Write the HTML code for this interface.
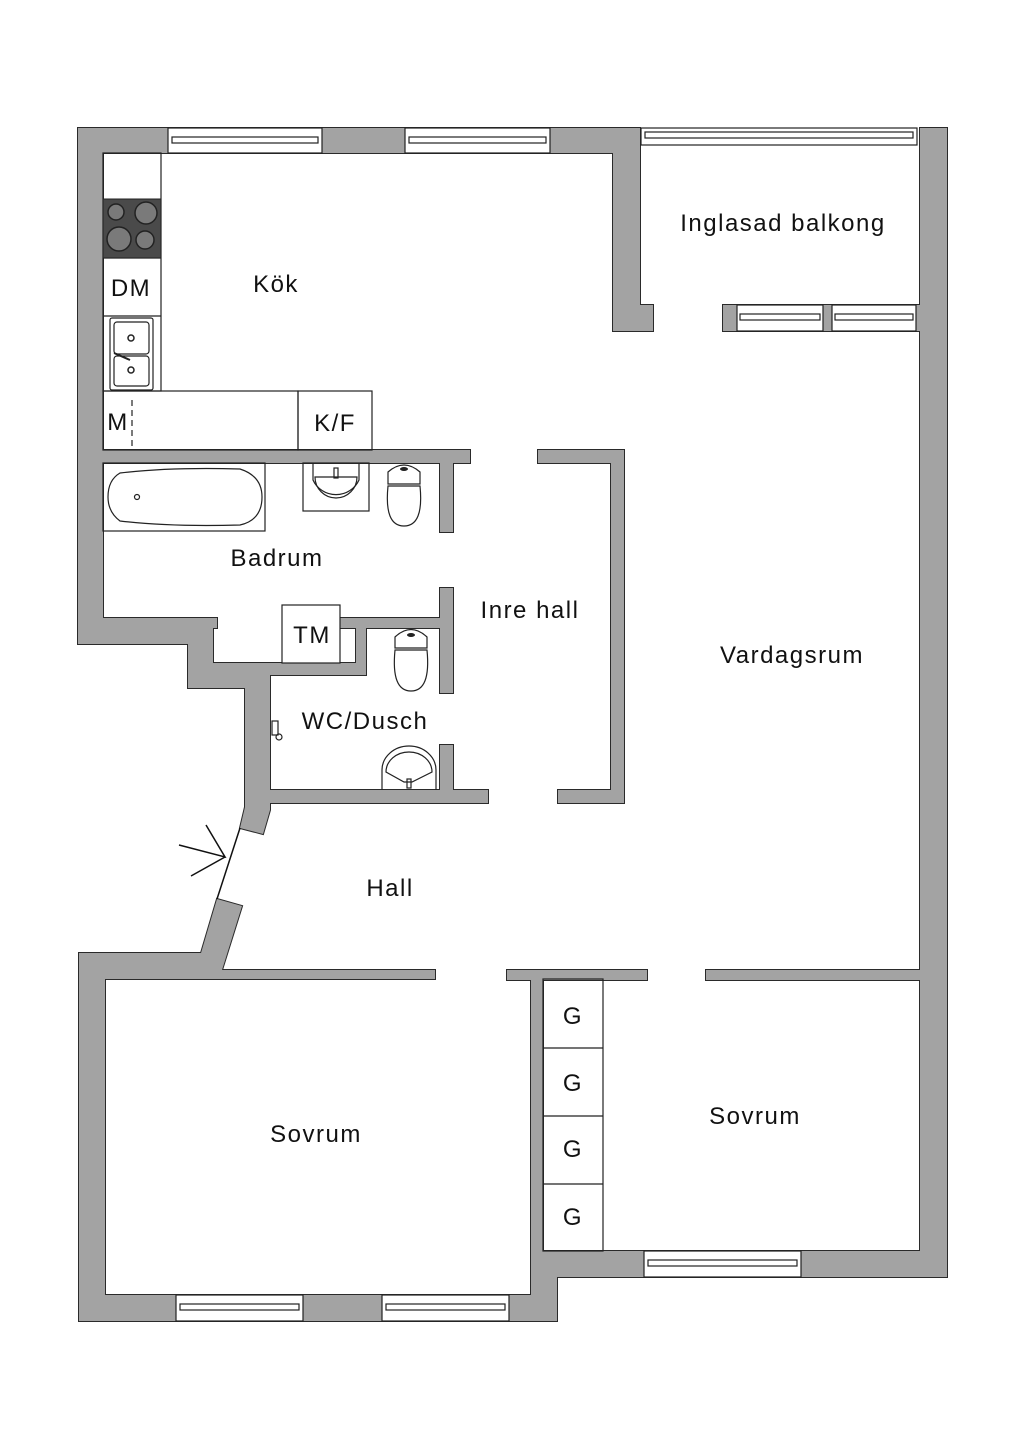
<!DOCTYPE html>
<html><head><meta charset="utf-8"><style>
html,body{margin:0;padding:0;background:#fff;}
svg{display:block;}
text{font-family:"Liberation Sans",sans-serif;fill:#111;}
</style></head><body>
<svg width="1024" height="1448" viewBox="0 0 1024 1448" xmlns="http://www.w3.org/2000/svg">
<defs>
<g id="walls">
<rect x="78" y="128" width="562" height="25"/>
<rect x="613" y="128" width="27" height="203"/>
<rect x="613" y="305" width="40" height="26"/>
<rect x="920" y="128" width="27" height="1149"/>
<rect x="723" y="305" width="197" height="26"/>
<rect x="78" y="128" width="25" height="516"/>
<polygon points="78,618 217,618 217,628 213,628 213,663 356,663 356,628 340,628 340,618 440,618 440,588 453,588 453,693 440,693 440,628 366,628 366,675 270,675 270,790 440,790 440,745 453,745 453,790 488,790 488,803 270,803 270,810 263,834 240,828 245,807 245,688 188,688 188,644 78,644"/>
<rect x="103" y="450" width="367" height="13"/>
<rect x="440" y="450" width="13" height="82"/>
<polygon points="538,450 624,450 624,803 558,803 558,790 611,790 611,463 538,463"/>
<polygon points="79,953 201,953 217,899 242,906 222,970 435,970 435,979 105,979 105,1321 79,1321"/>
<rect x="79" y="1295" width="478" height="26"/>
<rect x="531" y="979" width="12" height="316"/>
<rect x="531" y="1251" width="26" height="70"/>
<rect x="531" y="1251" width="416" height="26"/>
<rect x="507" y="970" width="140" height="10"/>
<rect x="706" y="970" width="216" height="10"/>
</g>
</defs>
<use href="#walls" fill="#a3a3a3" stroke="#2a2a2a" stroke-width="2"/>
<use href="#walls" fill="#a3a3a3" stroke="none"/>

<g fill="#fff" stroke="#222" stroke-width="1.2">
<rect x="168" y="128" width="154" height="25"/><rect x="172" y="137" width="146" height="6"/>
<rect x="405" y="128" width="145" height="25"/><rect x="409" y="137" width="137" height="6"/>
<rect x="641" y="128" width="276" height="17"/><rect x="645" y="132" width="268" height="6"/>
<rect x="737" y="305" width="86" height="26"/><rect x="740" y="314" width="80" height="6"/>
<rect x="832" y="305" width="84" height="26"/><rect x="835" y="314" width="78" height="6"/>
<rect x="644" y="1251" width="157" height="26"/><rect x="648" y="1260" width="149" height="6"/>
<rect x="176" y="1295" width="127" height="26"/><rect x="180" y="1304" width="119" height="6"/>
<rect x="382" y="1295" width="127" height="26"/><rect x="386" y="1304" width="119" height="6"/>
</g>

<g fill="none" stroke="#222" stroke-width="1.2">
<rect x="103" y="153" width="58" height="238"/>
<line x1="103" y1="258" x2="161" y2="258"/><line x1="103" y1="316" x2="161" y2="316"/>
<rect x="103" y="391" width="195" height="59"/>
<rect x="298" y="391" width="74" height="59"/>
<line x1="132" y1="400" x2="132" y2="450" stroke-dasharray="6,4"/>
<rect x="110" y="318" width="43" height="72" rx="2"/>
<rect x="114" y="322" width="35" height="32" rx="3"/>
<rect x="114" y="356" width="35" height="30" rx="3"/>
<line x1="114" y1="353" x2="130" y2="360" stroke-width="2"/>
</g>
<circle cx="131" cy="338" r="3" fill="none" stroke="#222" stroke-width="1.5"/>
<circle cx="131" cy="370" r="3" fill="none" stroke="#222" stroke-width="1.5"/>
<rect x="103" y="199" width="58" height="59" fill="#4a4a4a" stroke="#222"/>
<g fill="#7a7a7a" stroke="#222" stroke-width="1.5">
<circle cx="116" cy="212" r="8"/><circle cx="146" cy="213" r="11"/>
<circle cx="119" cy="239" r="12"/><circle cx="145" cy="240" r="9"/>
</g>

<g fill="none" stroke="#222" stroke-width="1.2">
<rect x="103" y="463" width="162" height="68"/>
<path d="M120,473 Q170,467 240,469 Q262,476 262,497 Q262,520 240,525 Q170,527 120,521 Q108,512 108,497 Q108,480 120,473 Z"/>
<circle cx="137" cy="497" r="2.5"/>
<rect x="303" y="463" width="66" height="48"/>
<path d="M313,463 L313,480 A25,24 0 0 0 359,480 L359,463"/>
<path d="M315,477 A21,21 0 0 0 357,477 Z"/>
<rect x="334" y="468" width="4" height="10"/>
<path d="M388,472 Q404,458 420,472 L420,484 L388,484 Z"/>
<path d="M388,486 Q384,526 404,526 Q424,526 420,486 Z"/>
<path d="M395,637 Q411,622 427,637 L427,648 L395,648 Z"/>
<path d="M395,650 Q391,691 411,691 Q431,691 427,650 Z"/>
<path d="M382,790 L382,770 A27,24 0 0 1 436,770 L436,790"/>
<path d="M386,772 A23,20 0 0 1 432,772 L412,782 L404,782 Z"/>
<rect x="407" y="779" width="4" height="9"/>
<rect x="282" y="605" width="58" height="58" fill="#fff"/>
<rect x="272" y="721" width="6" height="14"/>
<circle cx="279" cy="737" r="3"/>
<rect x="543" y="979" width="60" height="272"/>
<line x1="543" y1="1048" x2="603" y2="1048"/><line x1="543" y1="1116" x2="603" y2="1116"/><line x1="543" y1="1184" x2="603" y2="1184"/>
</g>
<g fill="#222"><ellipse cx="404" cy="469" rx="4" ry="2"/><ellipse cx="411" cy="635" rx="4" ry="2"/></g>

<g stroke="#111" stroke-width="1.5" fill="none">
<line x1="240" y1="828" x2="217" y2="899"/>
<polyline points="179,845 225,857 206,825"/>
<line x1="225" y1="857" x2="191" y2="876"/>
</g>

<g font-size="24" text-anchor="middle" letter-spacing="1.5">
<text x="783" y="231">Inglasad balkong</text>
<text x="276" y="292">Kök</text>
<text x="131" y="296">DM</text>
<text x="335" y="431">K/F</text>
<text x="118" y="430">M</text>
<text x="277" y="566">Badrum</text>
<text x="530" y="618">Inre hall</text>
<text x="312" y="643">TM</text>
<text x="792" y="663">Vardagsrum</text>
<text x="365" y="729">WC/Dusch</text>
<text x="390" y="896">Hall</text>
<text x="316" y="1142">Sovrum</text>
<text x="755" y="1124">Sovrum</text>
<text x="573" y="1024">G</text>
<text x="573" y="1091">G</text>
<text x="573" y="1157">G</text>
<text x="573" y="1225">G</text>
</g>
</svg>
</body></html>
